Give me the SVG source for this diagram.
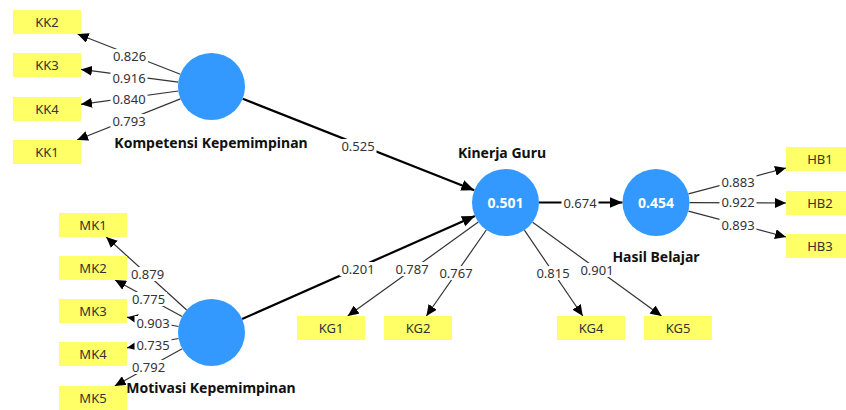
<svg xmlns="http://www.w3.org/2000/svg" width="846" height="410" viewBox="0 0 846 410">
<style>
.box{fill:#ffff66}
.bt{font-family:"Noto Sans","Open Sans",sans-serif;font-size:13px;fill:#333;text-anchor:middle}
.lv{fill:#3399ff}
.lvt{font-family:"Noto Sans","Open Sans",sans-serif;font-size:14px;font-weight:bold;fill:#fff;text-anchor:middle}
.name{font-family:"Noto Sans","Open Sans",sans-serif;font-size:14px;font-weight:bold;fill:#111;text-anchor:middle}
.ind{stroke:#333;stroke-width:1.2;fill:none;marker-end:url(#ah)}
.str{stroke:#000;stroke-width:2.2;fill:none;marker-end:url(#ah2)}
.lb{fill:#fff}
.lt{font-family:"Noto Sans","Open Sans",sans-serif;font-size:13px;fill:#333;text-anchor:middle}
</style>
<defs>
<marker id="ah" markerUnits="userSpaceOnUse" markerWidth="12" markerHeight="10" refX="11" refY="5" orient="auto" viewBox="0 0 12 10"><path d="M0,0 L11,5 L0,10 Z" fill="#000"/></marker>
<marker id="ah2" markerUnits="userSpaceOnUse" markerWidth="14" markerHeight="12" refX="13" refY="6" orient="auto" viewBox="0 0 14 12"><path d="M0,0.5 L13,6 L0,11.5 Z" fill="#000"/></marker>
</defs>
<rect width="846" height="410" fill="#fff"/>
<g id="connectors">
<line class="ind" x1="180.3" y1="74.3" x2="77.6" y2="34"/>
<line class="ind" x1="178.3" y1="82.2" x2="81" y2="69.4"/>
<line class="ind" x1="178.3" y1="91" x2="81" y2="104.3"/>
<line class="ind" x1="180.4" y1="98.9" x2="77.1" y2="140"/>
<line class="ind" x1="186.7" y1="310" x2="106.2" y2="237"/>
<line class="ind" x1="182.1" y1="316.5" x2="115" y2="280"/>
<line class="ind" x1="178.5" y1="326.5" x2="127" y2="317.2"/>
<line class="ind" x1="178.5" y1="338.5" x2="127" y2="347.8"/>
<line class="ind" x1="182.2" y1="348.7" x2="114.7" y2="386"/>
<line class="str" x1="242.7" y1="98.8" x2="474.3" y2="190.2"/>
<line class="str" x1="242.1" y1="319" x2="474.9" y2="216"/>
<line class="str" x1="539" y1="202.5" x2="622.5" y2="202.5"/>
<line class="ind" x1="478.3" y1="222.1" x2="347.7" y2="316"/>
<line class="ind" x1="486.3" y1="230" x2="426.4" y2="316"/>
<line class="ind" x1="524.4" y1="230.2" x2="582.8" y2="316"/>
<line class="ind" x1="532.6" y1="222.2" x2="661.5" y2="316"/>
<line class="ind" x1="688.4" y1="193.9" x2="786" y2="168"/>
<line class="ind" x1="689.5" y1="202.7" x2="786" y2="203"/>
<line class="ind" x1="688.4" y1="211.1" x2="786" y2="237"/>
<g id="labels">
<rect class="lb" x="111" y="49" width="37" height="14"/><text class="lt" x="129.5" y="60.7">0.826</text>
<rect class="lb" x="110.5" y="71" width="37" height="14"/><text class="lt" x="129" y="82.7">0.916</text>
<rect class="lb" x="110.5" y="92" width="37" height="14"/><text class="lt" x="129" y="103.7">0.840</text>
<rect class="lb" x="110.5" y="114" width="37" height="14"/><text class="lt" x="129" y="125.7">0.793</text>
<rect class="lb" x="129" y="267" width="37" height="14"/><text class="lt" x="147.5" y="278.7">0.879</text>
<rect class="lb" x="130" y="292" width="37" height="14"/><text class="lt" x="148.5" y="303.7">0.775</text>
<rect class="lb" x="134.5" y="316" width="37" height="14"/><text class="lt" x="153" y="327.7">0.903</text>
<rect class="lb" x="134.5" y="338" width="37" height="14"/><text class="lt" x="153" y="349.7">0.735</text>
<rect class="lb" x="130" y="360" width="37" height="14"/><text class="lt" x="148.5" y="371.7">0.792</text>
<rect class="lb" x="339.5" y="139" width="37" height="14"/><text class="lt" x="358" y="150.7">0.525</text>
<rect class="lb" x="339.5" y="262" width="37" height="14"/><text class="lt" x="358" y="273.7">0.201</text>
<rect class="lb" x="561.5" y="196" width="37" height="14"/><text class="lt" x="580" y="207.7">0.674</text>
<rect class="lb" x="393.5" y="262" width="37" height="14"/><text class="lt" x="412" y="273.7">0.787</text>
<rect class="lb" x="437.5" y="266" width="37" height="14"/><text class="lt" x="456" y="277.7">0.767</text>
<rect class="lb" x="534.5" y="266" width="37" height="14"/><text class="lt" x="553" y="277.7">0.815</text>
<rect class="lb" x="578.5" y="263" width="37" height="14"/><text class="lt" x="597" y="274.7">0.901</text>
<rect class="lb" x="719.5" y="175" width="37" height="14"/><text class="lt" x="738" y="186.7">0.883</text>
<rect class="lb" x="719.5" y="195" width="37" height="14"/><text class="lt" x="738" y="206.7">0.922</text>
<rect class="lb" x="719.5" y="218" width="37" height="14"/><text class="lt" x="738" y="229.7">0.893</text>
</g>
</g>
<g id="KK2"><rect class="box" x="13" y="10" width="68" height="24"/><text class="bt" x="47" y="26.7">KK2</text></g>
<g id="KK3"><rect class="box" x="13" y="53" width="68" height="24"/><text class="bt" x="47" y="69.7">KK3</text></g>
<g id="KK4"><rect class="box" x="13" y="97" width="68" height="24"/><text class="bt" x="47" y="113.7">KK4</text></g>
<g id="KK1"><rect class="box" x="13" y="140" width="68" height="24"/><text class="bt" x="47" y="156.7">KK1</text></g>
<g id="MK1"><rect class="box" x="59" y="213" width="68" height="24"/><text class="bt" x="93" y="229.7">MK1</text></g>
<g id="MK2"><rect class="box" x="59" y="256" width="68" height="24"/><text class="bt" x="93" y="272.7">MK2</text></g>
<g id="MK3"><rect class="box" x="59" y="299" width="68" height="24"/><text class="bt" x="93" y="315.7">MK3</text></g>
<g id="MK4"><rect class="box" x="59" y="342" width="68" height="24"/><text class="bt" x="93" y="358.7">MK4</text></g>
<g id="MK5"><rect class="box" x="59" y="386" width="68" height="24"/><text class="bt" x="93" y="402.7">MK5</text></g>
<g id="KG1"><rect class="box" x="297" y="316" width="68" height="24"/><text class="bt" x="331" y="332.7">KG1</text></g>
<g id="KG2"><rect class="box" x="384" y="316" width="68" height="24"/><text class="bt" x="418" y="332.7">KG2</text></g>
<g id="KG4"><rect class="box" x="557" y="316" width="68" height="24"/><text class="bt" x="591" y="332.7">KG4</text></g>
<g id="KG5"><rect class="box" x="644" y="316" width="68" height="24"/><text class="bt" x="678" y="332.7">KG5</text></g>
<g id="HB1"><rect class="box" x="786" y="147" width="68" height="24"/><text class="bt" x="820" y="163.7">HB1</text></g>
<g id="HB2"><rect class="box" x="786" y="191" width="68" height="24"/><text class="bt" x="820" y="207.7">HB2</text></g>
<g id="HB3"><rect class="box" x="786" y="234" width="68" height="24"/><text class="bt" x="820" y="250.7">HB3</text></g>
<g id="KompetensiKepemimpinan"><circle class="lv" cx="211.5" cy="86.5" r="33.5"/><text class="name" x="211" y="148">Kompetensi Kepemimpinan</text></g>
<g id="MotivasiKepemimpinan"><circle class="lv" cx="211.5" cy="332.5" r="33.5"/><text class="name" x="211" y="393">Motivasi Kepemimpinan</text></g>
<g id="KinerjaGuru"><circle class="lv" cx="505.5" cy="202.5" r="33.5"/><text class="lvt" x="505.5" y="208">0.501</text><text class="name" x="502" y="158">Kinerja Guru</text></g>
<g id="HasilBelajar"><circle class="lv" cx="656" cy="202.5" r="33.5"/><text class="lvt" x="656" y="208">0.454</text><text class="name" x="656" y="262">Hasil Belajar</text></g>
</svg>
